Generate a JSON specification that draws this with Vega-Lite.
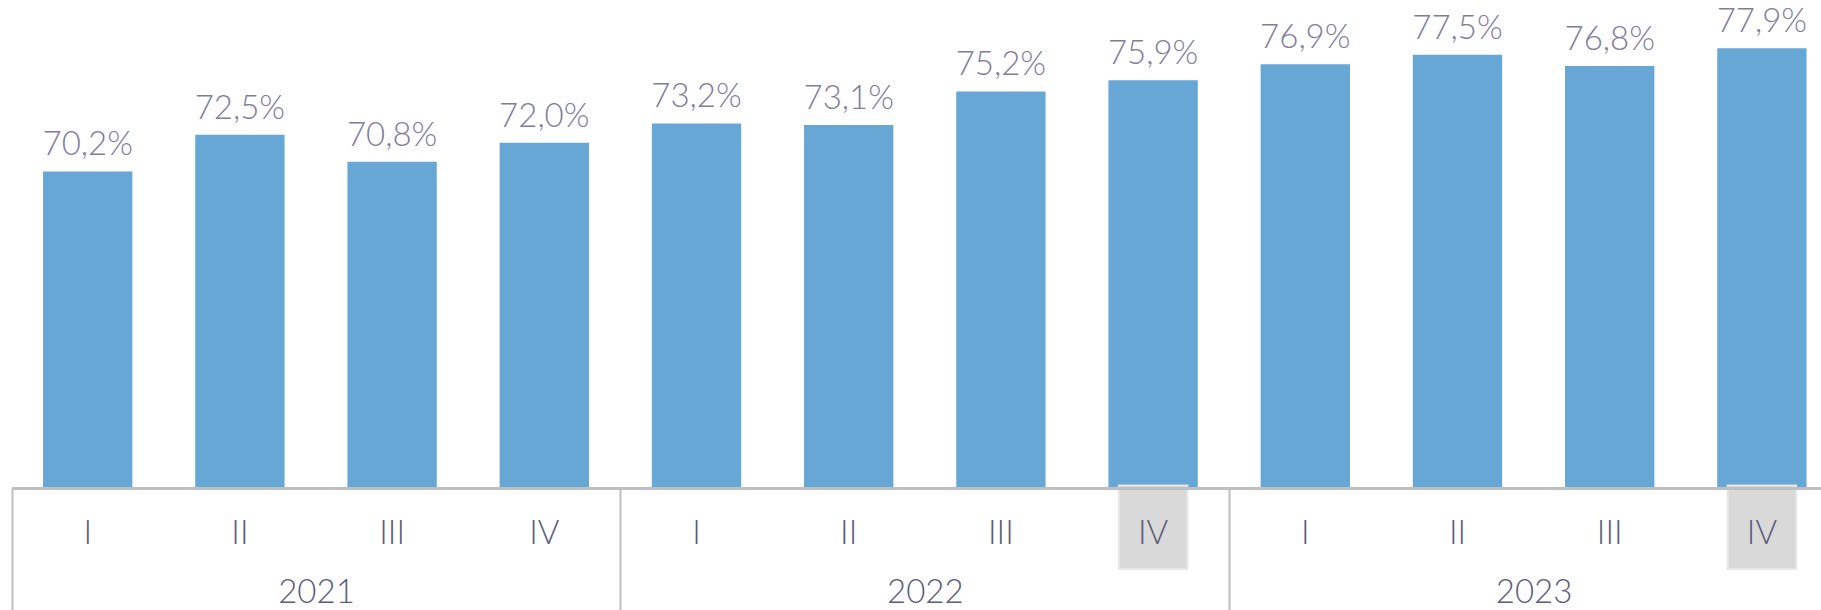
{
  "$schema": "https://vega.github.io/schema/vega-lite/v6.json",
  "autosize": "none",
  "padding": {"left": 0, "top": 0, "right": 0, "bottom": 122},
  "width": 1821,
  "height": 488,
  "background": "white",
  "config": {"view": {"stroke": null}},
  "data": {"values": [
    {"year": "2021", "q": "I", "key": "2021-I", "value": 70.2},
    {"year": "2021", "q": "II", "key": "2021-II", "value": 72.5},
    {"year": "2021", "q": "III", "key": "2021-III", "value": 70.8},
    {"year": "2021", "q": "IV", "key": "2021-IV", "value": 72.0},
    {"year": "2022", "q": "I", "key": "2022-I", "value": 73.2},
    {"year": "2022", "q": "II", "key": "2022-II", "value": 73.1},
    {"year": "2022", "q": "III", "key": "2022-III", "value": 75.2},
    {"year": "2022", "q": "IV", "key": "2022-IV", "value": 75.9},
    {"year": "2023", "q": "I", "key": "2023-I", "value": 76.9},
    {"year": "2023", "q": "II", "key": "2023-II", "value": 77.5},
    {"year": "2023", "q": "III", "key": "2023-III", "value": 76.8},
    {"year": "2023", "q": "IV", "key": "2023-IV", "value": 77.9}
  ]},
  "transform": [
    {"calculate": "replace(format(datum.value, '.1f'), '.', ',') + '%'", "as": "label"}
  ],
  "layer": [
    {
      "encoding": {
        "x": {
          "field": "key", "type": "nominal", "sort": null,
          "scale": {"type": "band", "range": [11.6, 1838], "paddingInner": 0, "paddingOuter": 0},
          "axis": {
            "orient": "bottom", "title": null, "domain": false, "ticks": false, "tickSize": 0,
            "labelExpr": "split(datum.value, '-')[1]", "labelAngle": 0,
            "labelFont": "Lato", "labelFontWeight": 300, "labelFontSize": 33, "labelColor": "#5C5C7A",
            "labelBaseline": "alphabetic", "labelPadding": 55, "zindex": 2
          }
        }
      },
      "layer": [
        {
          "mark": {"type": "bar", "color": "#67A7D6", "width": {"band": 0.587}},
          "encoding": {
            "y": {
              "field": "value", "type": "quantitative",
              "scale": {"domain": [50.4, 80.92], "zero": false, "nice": false},
              "axis": null
            },
            "y2": {"datum": 50.4}
          }
        },
        {
          "transform": [{"filter": "datum.q == 'IV' && datum.year != '2021'"}],
          "mark": {"type": "bar", "color": "#D9D9D9", "stroke": "#E6E6E6", "strokeWidth": 2, "width": {"band": 0.45}},
          "encoding": {
            "y": {"datum": 50.55},
            "y2": {"datum": 45.33}
          }
        },
        {
          "mark": {"type": "text", "baseline": "alphabetic", "align": "center", "dy": -16, "font": "Lato", "fontWeight": 300, "fontSize": 33, "color": "#7F7D9C"},
          "encoding": {
            "y": {"field": "value", "type": "quantitative"},
            "text": {"field": "label"}
          }
        }
      ]
    },
    {
      "mark": {"type": "rule", "opacity": 0},
      "encoding": {
        "x": {
          "field": "year", "type": "nominal", "sort": null,
          "scale": {"type": "band", "range": [11.6, 1838], "paddingInner": 0, "paddingOuter": 0},
          "axis": {
            "orient": "bottom", "title": null, "domain": true, "domainColor": "#BFBFBF", "domainWidth": 3,
            "ticks": true, "tickBand": "extent", "tickSize": 122, "tickColor": "#BFBFBF", "tickWidth": 2,
            "labelAngle": 0, "labelFont": "Lato", "labelFontWeight": 300, "labelFontSize": 33, "labelColor": "#5C5C7A",
            "labelBaseline": "alphabetic", "labelPadding": -8, "zindex": 3
          }
        }
      }
    }
  ],
  "resolve": {"scale": {"x": "independent"}}
}
